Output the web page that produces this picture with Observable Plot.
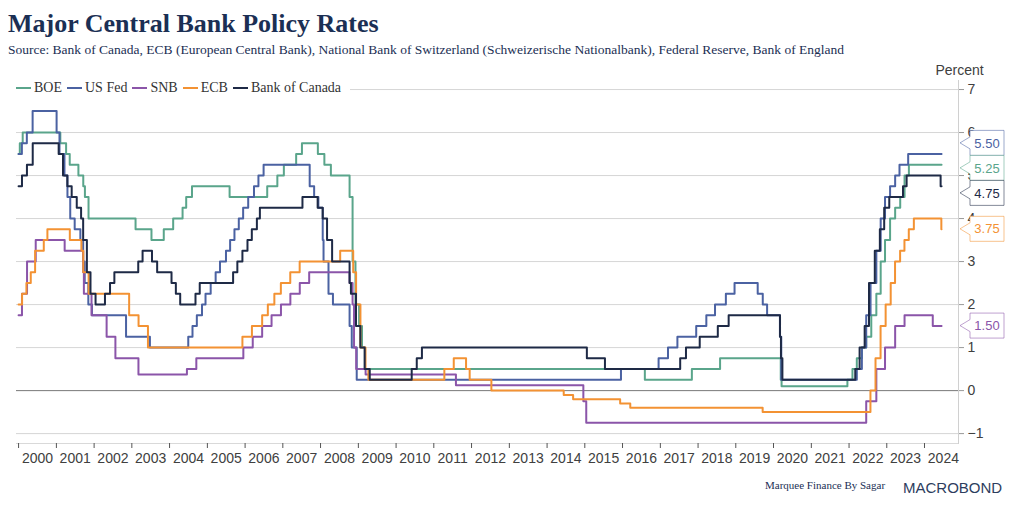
<!DOCTYPE html>
<html>
<head>
<meta charset="utf-8">
<script src="https://cdn.jsdelivr.net/npm/d3@7"></script>
<script src="https://cdn.jsdelivr.net/npm/@observablehq/plot@0.6"></script>
<style>
  body { margin: 0; background: #fff; }
  #wrap { position: relative; width: 1012px; height: 506px; overflow: hidden; background: #fff; }
  .title { position: absolute; left: 8px; top: 11px; font: bold 26px/26px "Liberation Serif", "Times New Roman", serif; color: #1b2f54; white-space: nowrap; }
  .subtitle { position: absolute; left: 8px; top: 43px; font: 13.5px/14px "Liberation Serif", "Times New Roman", serif; color: #1b2f54; white-space: nowrap; }
  #chart { position: absolute; left: 0; top: 60px; }
  .legend { position: absolute; left: 16px; top: 80px; height: 16px; background: #fff; display: flex; align-items: center; padding-right: 4px; font: 14px/14px "Liberation Serif", "Times New Roman", serif; color: #333; white-space: nowrap; z-index: 2; }
  .legend .item { display: flex; align-items: center; margin-right: 5px; }
  .legend .sw { width: 15px; height: 2px; margin-right: 3px; }
  .percent { position: absolute; left: 959.5px; top: 63px; transform: translateX(-50%); font: 14px/14px "Liberation Sans", Arial, sans-serif; color: #404040; white-space: nowrap; z-index: 2; }
  .credit { position: absolute; left: 765px; top: 480px; font: 11px/11px "Liberation Serif", "Times New Roman", serif; color: #1b2f54; white-space: nowrap; }
  .logo { position: absolute; left: 903px; top: 480px; font: 15px/15px "Liberation Sans", Arial, sans-serif; color: #2d3d5e; white-space: nowrap; }
</style>
</head>
<body>
<div id="wrap">
  <div class="title">Major Central Bank Policy Rates</div>
  <div class="subtitle">Source: Bank of Canada, ECB (European Central Bank), National Bank of Switzerland (Schweizerische Nationalbank), Federal Reserve, Bank of England</div>
  <div class="legend" id="legend"></div>
  <div class="percent">Percent</div>
  <div id="chart"></div>
  <div class="credit">Marquee Finance By Sagar</div>
  <div class="logo">MACROBOND</div>
</div>
<script>
// ---------- DATA (rate change dates and new levels, %) ----------
const endDate = "2024-06-14";

const boeDates = ["2000-01-01","2000-01-13","2000-02-10","2001-02-08","2001-04-05","2001-05-10","2001-08-02","2001-09-18","2001-10-04","2001-11-08","2003-02-06","2003-07-10","2003-11-06","2004-02-05","2004-05-06","2004-06-10","2004-08-05","2005-08-04","2006-08-03","2006-11-09","2007-01-11","2007-05-10","2007-07-05","2007-12-06","2008-02-07","2008-04-10","2008-10-08","2008-11-06","2008-12-04","2009-01-08","2009-02-05","2009-03-05","2016-08-04","2017-11-02","2018-08-02","2020-03-11","2020-03-19","2021-12-16","2022-02-03","2022-03-17","2022-05-05","2022-06-16","2022-08-04","2022-09-22","2022-11-03","2022-12-15","2023-02-02","2023-03-23","2023-05-11","2023-06-22","2023-08-03"];
const boeRates = [5.5,5.75,6.0,5.75,5.5,5.25,5.0,4.75,4.5,4.0,3.75,3.5,3.75,4.0,4.25,4.5,4.75,4.5,4.75,5.0,5.25,5.5,5.75,5.5,5.25,5.0,4.5,3.0,2.0,1.5,1.0,0.5,0.25,0.5,0.75,0.25,0.1,0.25,0.5,0.75,1.0,1.25,1.75,2.25,3.0,3.5,4.0,4.25,4.5,5.0,5.25];

const fedDates = ["2000-01-01","2000-02-02","2000-03-21","2000-05-16","2001-01-03","2001-01-31","2001-03-20","2001-04-18","2001-05-15","2001-06-27","2001-08-21","2001-09-17","2001-10-02","2001-11-06","2001-12-11","2002-11-06","2003-06-25","2004-06-30","2004-08-10","2004-09-21","2004-11-10","2004-12-14","2005-02-02","2005-03-22","2005-05-03","2005-06-30","2005-08-09","2005-09-20","2005-11-01","2005-12-13","2006-01-31","2006-03-28","2006-05-10","2006-06-29","2007-09-18","2007-10-31","2007-12-11","2008-01-22","2008-01-30","2008-03-18","2008-04-30","2008-10-08","2008-10-29","2008-12-16","2015-12-17","2016-12-15","2017-03-16","2017-06-15","2017-12-14","2018-03-22","2018-06-14","2018-09-27","2018-12-20","2019-08-01","2019-09-19","2019-10-31","2020-03-03","2020-03-16","2022-03-17","2022-05-05","2022-06-16","2022-07-28","2022-09-22","2022-11-03","2022-12-15","2023-02-02","2023-03-23","2023-05-04","2023-07-27"];
const fedRates = [5.5,5.75,6.0,6.5,6.0,5.5,5.0,4.5,4.0,3.75,3.5,3.0,2.5,2.0,1.75,1.25,1.0,1.25,1.5,1.75,2.0,2.25,2.5,2.75,3.0,3.25,3.5,3.75,4.0,4.25,4.5,4.75,5.0,5.25,4.75,4.5,4.25,3.5,3.0,2.25,2.0,1.5,1.0,0.25,0.5,0.75,1.0,1.25,1.5,1.75,2.0,2.25,2.5,2.25,2.0,1.75,1.25,0.25,0.5,1.0,1.75,2.5,3.25,4.0,4.5,4.75,5.0,5.25,5.5];

const snbDates = ["2000-01-01","2000-02-03","2000-03-23","2000-06-15","2001-03-22","2001-09-17","2001-09-24","2001-12-07","2002-05-02","2002-07-26","2003-03-06","2004-06-17","2004-09-16","2005-12-15","2006-03-16","2006-06-15","2006-09-14","2006-12-14","2007-03-15","2007-06-14","2007-09-13","2008-10-08","2008-11-06","2008-11-20","2008-12-11","2009-03-12","2011-08-03","2014-12-18","2015-01-15","2022-06-16","2022-09-22","2022-12-15","2023-03-23","2023-06-22","2024-03-21"];
const snbRates = [1.75,2.25,3.0,3.5,3.25,2.75,2.25,1.75,1.25,0.75,0.375,0.5,0.75,1.0,1.25,1.5,1.75,2.0,2.25,2.5,2.75,2.5,2.0,1.0,0.5,0.375,0.125,-0.25,-0.75,-0.25,0.5,1.0,1.5,1.75,1.5];

const ecbDates = ["2000-01-01","2000-02-04","2000-03-17","2000-04-28","2000-06-09","2000-09-01","2000-10-06","2001-05-11","2001-08-31","2001-09-18","2001-11-09","2002-12-06","2003-03-07","2003-06-06","2005-12-06","2006-03-08","2006-06-15","2006-08-09","2006-10-11","2006-12-13","2007-03-14","2007-06-13","2008-07-09","2008-11-12","2008-12-10","2009-01-21","2009-03-11","2009-04-08","2011-04-13","2011-07-13","2011-11-09","2011-12-14","2012-07-11","2014-06-11","2014-09-10","2015-12-09","2016-03-16","2019-09-18","2022-07-27","2022-09-14","2022-11-02","2022-12-21","2023-02-08","2023-03-22","2023-05-10","2023-06-21","2023-08-02","2023-09-20","2024-06-12"];
const ecbRates = [2.0,2.25,2.5,2.75,3.25,3.5,3.75,3.5,3.25,2.75,2.25,1.75,1.5,1.0,1.25,1.5,1.75,2.0,2.25,2.5,2.75,3.0,3.25,2.75,2.0,1.0,0.5,0.25,0.5,0.75,0.5,0.25,0.0,-0.1,-0.2,-0.3,-0.4,-0.5,0.0,0.75,1.5,2.0,2.5,3.0,3.25,3.5,3.75,4.0,3.75];

const bocDates = ["2000-01-01","2000-02-03","2000-03-22","2000-05-17","2001-01-23","2001-03-06","2001-04-17","2001-05-29","2001-07-17","2001-08-28","2001-09-17","2001-10-23","2001-11-27","2002-01-15","2002-04-16","2002-06-04","2002-07-16","2003-03-04","2003-04-15","2003-07-15","2003-09-03","2004-01-20","2004-03-02","2004-04-13","2004-09-08","2004-10-19","2005-09-07","2005-10-18","2005-12-06","2006-01-24","2006-03-07","2006-04-25","2006-05-24","2007-07-10","2007-12-04","2008-01-22","2008-03-04","2008-04-22","2008-10-08","2008-10-21","2008-12-09","2009-01-20","2009-03-03","2009-04-21","2010-06-01","2010-07-20","2010-09-08","2015-01-21","2015-07-15","2017-07-12","2017-09-06","2018-01-17","2018-07-11","2018-10-24","2020-03-04","2020-03-13","2020-03-27","2022-03-02","2022-04-13","2022-06-01","2022-07-13","2022-09-07","2022-10-26","2022-12-07","2023-01-25","2023-06-07","2023-07-12","2024-06-05"];
const bocRates = [4.75,5.0,5.25,5.75,5.5,5.0,4.75,4.5,4.25,4.0,3.5,2.75,2.25,2.0,2.25,2.5,2.75,3.0,3.25,3.0,2.75,2.5,2.25,2.0,2.25,2.5,2.75,3.0,3.25,3.5,3.75,4.0,4.25,4.5,4.25,4.0,3.5,3.0,2.5,2.25,1.5,1.0,0.5,0.25,0.5,0.75,1.0,0.75,0.5,0.75,1.0,1.25,1.5,1.75,1.25,0.75,0.25,0.5,1.0,1.5,2.5,3.25,3.75,4.25,4.5,4.75,5.0,4.75];

const seriesNames  = ["BOE", "US Fed", "SNB", "ECB", "Bank of Canada"];
const seriesColors = ["#5aa58b", "#4b62a2", "#8b55a9", "#f39233", "#1e2a46"];
const yearLabels = [2000,2001,2002,2003,2004,2005,2006,2007,2008,2009,2010,2011,2012,2013,2014,2015,2016,2017,2018,2019,2020,2021,2022,2023,2024];
const yTickValues = [-1,0,1,2,3,4,5,6,7];

// ---------- BUILD ----------
const seriesData = [
  [boeDates, boeRates], [fedDates, fedRates], [snbDates, snbRates], [ecbDates, ecbRates], [bocDates, bocRates]
].map(([ds, rs], i) => {
  const rows = ds.map((d, j) => ({date: new Date(d), rate: rs[j]}));
  rows.push({date: new Date(endDate), rate: rs[rs.length - 1]});
  return {name: seriesNames[i], color: seriesColors[i], rows, last: rs[rs.length - 1]};
});

// legend
const legend = document.getElementById("legend");
seriesData.forEach(s => {
  const it = document.createElement("div");
  it.className = "item";
  it.innerHTML = `<div class="sw" style="background:${s.color}"></div><span>${s.name}</span>`;
  legend.appendChild(it);
});

const yearStarts = yearLabels.map(y => new Date(Date.UTC(y, 0, 1)));
const yearMids = yearLabels.map(y => new Date(Date.UTC(y, 6, 2)));

// callout boxes at right end (dodged to avoid overlap)
function callouts(index, scales, values, dim) {
  const H = 25, W = 34, P = 10;
  const x0 = dim.width - dim.marginRight + 2;
  const items = seriesData.map(s => ({s, y: scales.y(s.last)})).sort((a, b) => a.y - b.y);
  let clusters = items.map(it => ({items: [it], c: it.y}));
  let changed = true;
  while (changed) {
    changed = false;
    for (let i = 0; i < clusters.length - 1; i++) {
      const a = clusters[i], b = clusters[i + 1];
      if (a.c + a.items.length * H / 2 > b.c - b.items.length * H / 2) {
        const its = a.items.concat(b.items);
        clusters.splice(i, 2, {items: its, c: d3.mean(its, d => d.y)});
        changed = true;
        break;
      }
    }
  }
  const g = d3.create("svg:g");
  clusters.forEach(cl => {
    const n = cl.items.length;
    cl.items.forEach((it, k) => {
      const cy = cl.c + (k - (n - 1) / 2) * H;
      g.append("path")
        .attr("d", `M${x0},${cy}L${x0 + P},${cy - 6}L${x0 + P},${cy - H / 2}L${x0 + P + W},${cy - H / 2}L${x0 + P + W},${cy + H / 2}L${x0 + P},${cy + H / 2}L${x0 + P},${cy + 6}Z`)
        .attr("fill", "#fff")
        .attr("stroke", it.s.color)
        .attr("stroke-opacity", 0.55)
        .attr("stroke-width", 1);
      g.append("text")
        .attr("x", x0 + P + W / 2)
        .attr("y", cy)
        .attr("dy", "0.36em")
        .attr("text-anchor", "middle")
        .attr("fill", it.s.color)
        .attr("font-size", 13)
        .text(it.s.last.toFixed(2));
    });
  });
  return g.node();
}

const chart = Plot.plot({
  width: 1012,
  height: 415,
  marginTop: 20,
  marginBottom: 32,
  marginLeft: 16,
  marginRight: 54,
  style: {fontFamily: "'Liberation Sans', Arial, sans-serif", fontSize: "14px", color: "#404040", background: "transparent", overflow: "visible"},
  x: {type: "utc", domain: [new Date(Date.UTC(1999, 11, 12)), new Date(Date.UTC(2024, 10, 25))]},
  y: {domain: [-1.23, 7.21]},
  marks: [
    Plot.gridY(yTickValues, {stroke: "#d6d6d6", strokeOpacity: 1}),
    Plot.ruleY([0], {stroke: "#7f7f7f", strokeWidth: 1}),
    Plot.frame({anchor: "bottom", stroke: "#d9d9d9"}),
    Plot.frame({anchor: "right", stroke: "#d0d0d0"}),
    Plot.axisX(yearStarts, {tickSize: 5, tickFormat: () => "", stroke: "#555", label: null}),
    Plot.axisX(yearMids, {tickSize: 0, tickPadding: 10, tickFormat: d3.utcFormat("%Y"), fill: "#404040", label: null}),
    Plot.axisY(yTickValues, {anchor: "right", tickSize: 5, tickPadding: 4, stroke: "#999", fill: "#404040", label: null}),
    ...seriesData.map(s => Plot.line(s.rows, {x: "date", y: "rate", curve: "step-after", stroke: s.color, strokeWidth: 2})),
    callouts
  ]
});
document.getElementById("chart").appendChild(chart);
</script>
</body>
</html>
